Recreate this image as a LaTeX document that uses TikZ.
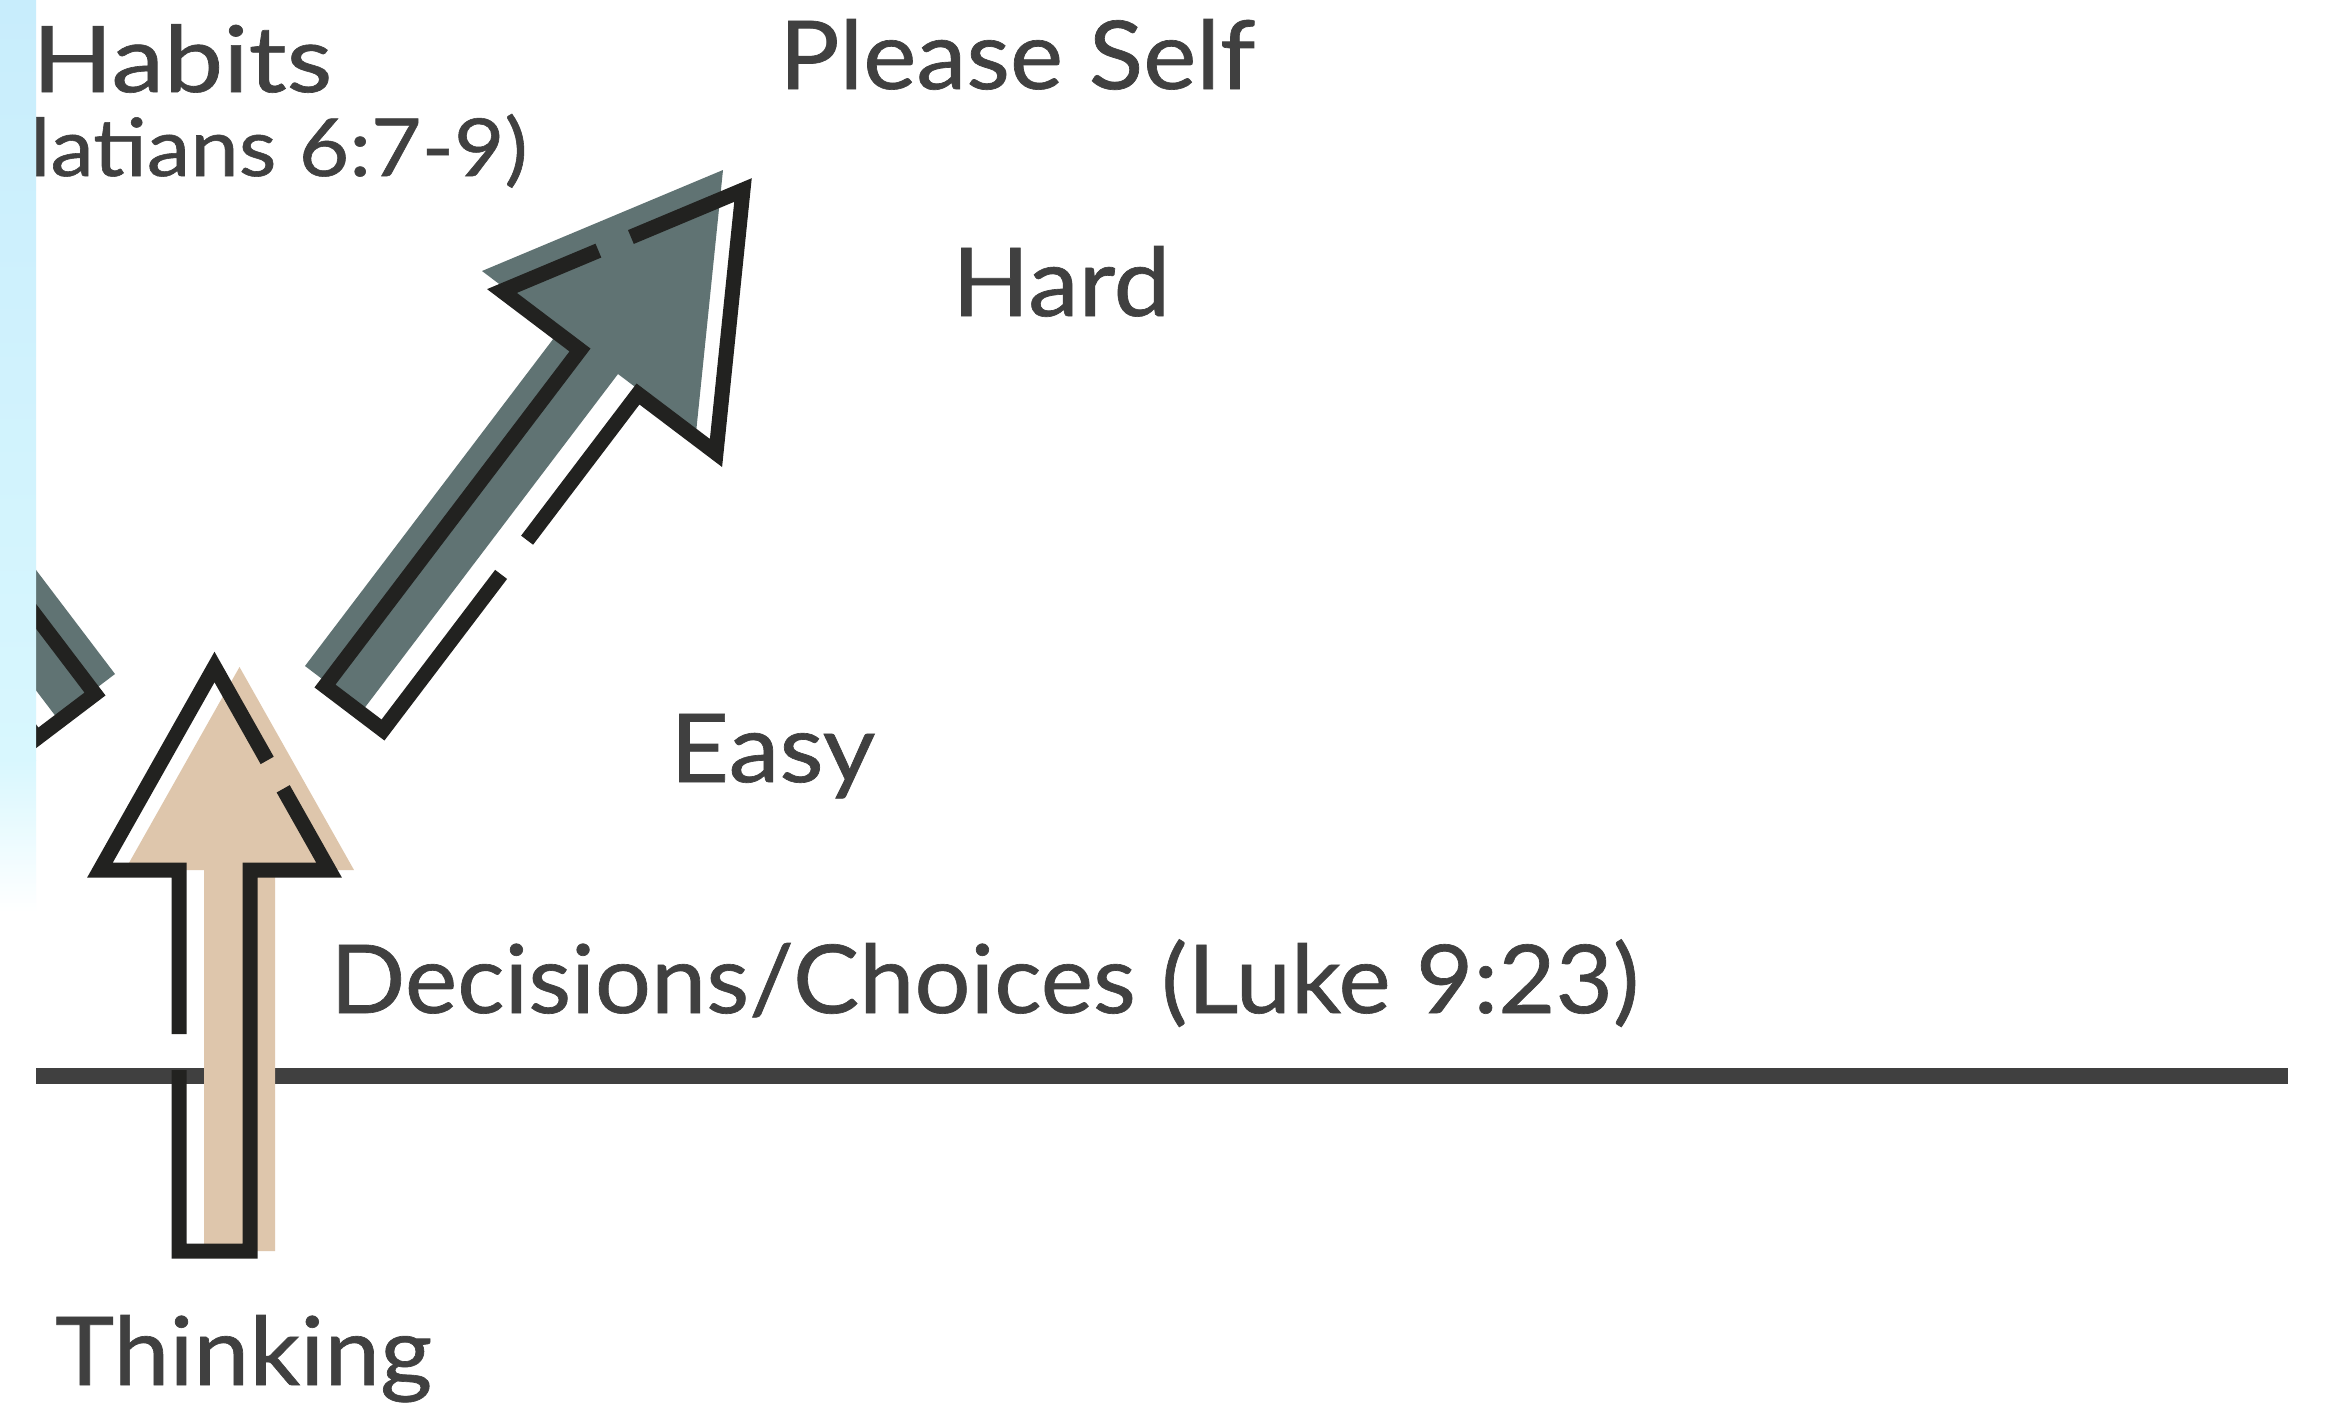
\documentclass[tikz,border=0pt]{standalone}
\usepackage{fontspec}
\setmainfont{Lato}[FakeBold=0.7]
\usetikzlibrary{calc}
\definecolor{txt}{RGB}{64,64,64}
\definecolor{ink}{RGB}{34,34,32}
\definecolor{beige}{RGB}{222,198,172}
\definecolor{slate}{RGB}{96,115,115}
\definecolor{skyA}{RGB}{200,237,252}
\definecolor{skyB}{RGB}{216,247,254}
\newlength\fitlen
\newcommand\fitw[2]{\settowidth{\fitlen}{#2}\pgfmathsetmacro\fitr{#1/\fitlen}\scalebox{\fitr}[1]{#2}}
\newcommand\slatearrow{%
  \begin{scope}[shift={(-20,-20)}]
    \fill[slate] (743,190) -- (716,453) -- (638,394) -- (383,730) -- (325,686) -- (580,350) -- (502,291) -- cycle;
  \end{scope}
  \draw[outl] (630.9,237.0) -- (743,190) -- (716,453) -- (638,394) -- (527.1,540.2);
  \draw[outl] (501.1,574.4) -- (383,730) -- (325,686) -- (580,350) -- (502,291) -- (598.4,250.6);
}
\begin{document}
\begin{tikzpicture}[x=1pt,y=-1pt,
  outl/.style={draw=ink,line width=15pt,line join=miter},
  lbl/.style={inner sep=0pt,text=txt,font=\fontsize{95}{110}\selectfont},
  small/.style={inner sep=0pt,text=txt,font=\fontsize{80}{96}\selectfont}]
\useasboundingbox (0,0) rectangle (2326,1409);
\fill[white] (0,0) rectangle (2326,1409);

% labels
\node[lbl,anchor=base west,font=\fontsize{92}{110}\selectfont] (habits) at (32,92) {\fitw{300pt}{Habits}};
\node[small,anchor=base east] (gal) at (528,176) {\settowidth{\fitlen}{latians 6:7-9)}\pgfmathsetmacro\fitr{498pt/\fitlen}\scalebox{\fitr}[1]{(Galatians 6:7-9)}};
\node[lbl,anchor=base west] (please) at (779,89) {\fitw{476pt}{Please Self}};
\node[lbl,anchor=base west] (hard) at (952,316) {\fitw{218pt}{Hard}};
\node[lbl,anchor=base west] (easy) at (670,782) {\fitw{205pt}{Easy}};
\node[lbl,anchor=base west] (dec) at (330,1013) {\fitw{1309pt}{Decisions/Choices (Luke 9:23)}};
\node[lbl,anchor=base west] (think) at (55,1385) {\fitw{377pt}{Thinking}};

% baseline
\draw[line width=16pt,txt] (36,1076) -- (2288,1076);

% beige up arrow
\begin{scope}[shift={(25,0)}]
  \fill[beige] (214.5,667) -- (329,870) -- (250,870) -- (250,1251) -- (179,1251) -- (179,870) -- (100,870) -- cycle;
\end{scope}
\draw[outl] (179,1070) -- (179,1251) -- (250,1251) -- (250,870) -- (329,870) -- (283.2,788.8);
\draw[outl] (267.2,760.4) -- (214.5,667) -- (100,870) -- (179,870) -- (179,1034);

% slate arrow to the upper right
\slatearrow

% slate arrow to the upper left (mostly off the picture)
\begin{scope}
  \clip (36,0) rectangle (2326,1409);
  \begin{scope}[shift={(420,8)},xscale=-1]
    \slatearrow
  \end{scope}
\end{scope}

% light blue strip at the left edge
\shade[top color=skyA,bottom color=skyB] (0,0) rectangle (36,760);
\shade[top color=skyB,bottom color=white] (0,760) rectangle (36,912);
\end{tikzpicture}
\end{document}
